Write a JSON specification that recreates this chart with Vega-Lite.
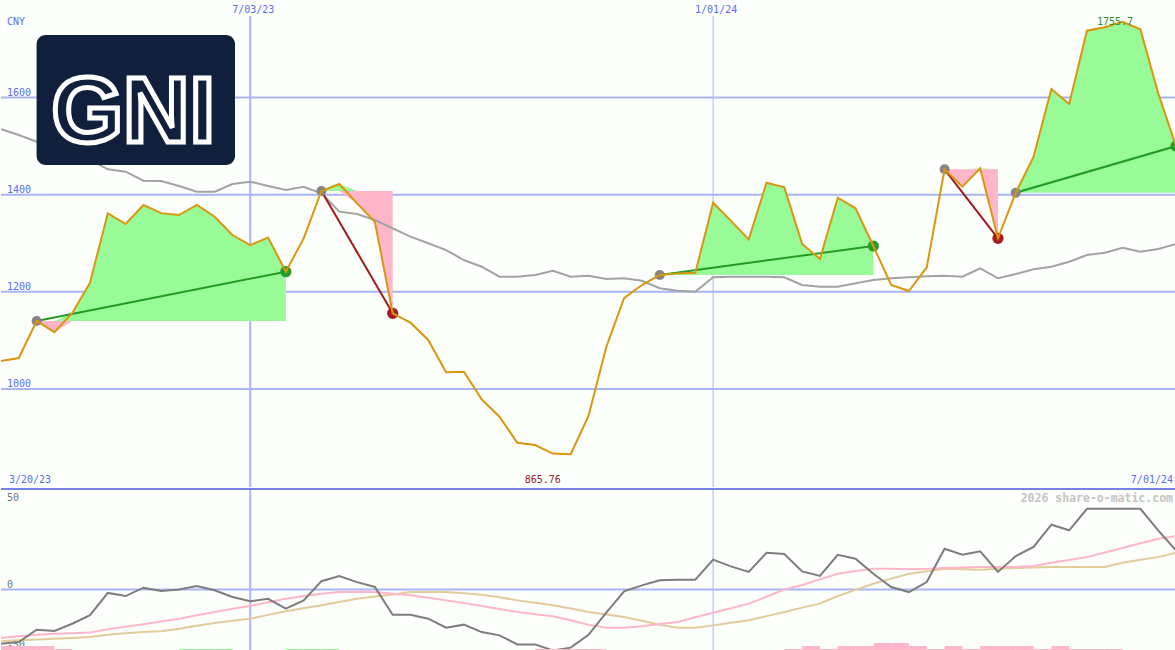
{
  "$schema": "https://vega.github.io/schema/vega-lite/v6.json",
  "background": "#fcfffc",
  "padding": 0,
  "spacing": 0,
  "config": {"view": {"stroke": null}, "concat": {"spacing": 0}},
  "datasets": {
    "price": [
      {"d":"2023-03-27","p":1057.6,"ma":1534.6},
      {"d":"2023-04-03","p":1063.8,"ma":1522.8},
      {"d":"2023-04-10","p":1140,"ma":1509,"t":"t1","base":1140},
      {"d":"2023-04-17","p":1117,"ma":1475,"t":"t1","base":1140},
      {"d":"2023-04-24","p":1156,"ma":1466.7,"t":"t1","base":1140},
      {"d":"2023-05-01","p":1218.8,"ma":1471.4,"t":"t1","base":1140},
      {"d":"2023-05-08","p":1361.7,"ma":1452.3,"t":"t1","base":1140},
      {"d":"2023-05-15","p":1339.6,"ma":1447.3,"t":"t1","base":1140},
      {"d":"2023-05-22","p":1378.8,"ma":1428.8,"t":"t1","base":1140},
      {"d":"2023-05-29","p":1362,"ma":1428.2,"t":"t1","base":1140},
      {"d":"2023-06-05","p":1358,"ma":1417.9,"t":"t1","base":1140},
      {"d":"2023-06-12","p":1378.8,"ma":1406.1,"t":"t1","base":1140},
      {"d":"2023-06-19","p":1354.7,"ma":1406.1,"t":"t1","base":1140},
      {"d":"2023-06-26","p":1317,"ma":1422,"t":"t1","base":1140},
      {"d":"2023-07-03","p":1296,"ma":1426.7,"t":"t1","base":1140},
      {"d":"2023-07-10","p":1312,"ma":1418,"t":"t1","base":1140},
      {"d":"2023-07-17","p":1241.5,"ma":1409.6,"t":"t1","base":1140},
      {"d":"2023-07-24","p":1310,"ma":1416.4},
      {"d":"2023-07-31","p":1407.6,"ma":1402.8,"t":"t2","base":1407.6},
      {"d":"2023-08-07","p":1422,"ma":1365,"t":"t2","base":1407.6},
      {"d":"2023-08-14","p":1382,"ma":1360.2,"t":"t2","base":1407.6},
      {"d":"2023-08-21","p":1344,"ma":1347.9,"t":"t2","base":1407.6},
      {"d":"2023-08-28","p":1155.8,"ma":1330.8,"t":"t2","base":1407.6},
      {"d":"2023-09-04","p":1136.5,"ma":1313.5},
      {"d":"2023-09-11","p":1100.9,"ma":1300},
      {"d":"2023-09-18","p":1034.3,"ma":1286},
      {"d":"2023-09-25","p":1035.6,"ma":1265.5},
      {"d":"2023-10-02","p":978.7,"ma":1251.7},
      {"d":"2023-10-09","p":943,"ma":1231.2},
      {"d":"2023-10-16","p":889.5,"ma":1231.2},
      {"d":"2023-10-23","p":884.7,"ma":1234.7},
      {"d":"2023-10-30","p":867,"ma":1243.5},
      {"d":"2023-11-06","p":865.76,"ma":1231.2},
      {"d":"2023-11-13","p":944.4,"ma":1233.2},
      {"d":"2023-11-20","p":1086.5,"ma":1226.4},
      {"d":"2023-11-27","p":1187,"ma":1227.9},
      {"d":"2023-12-04","p":1214,"ma":1222.9},
      {"d":"2023-12-11","p":1234.7,"ma":1207.3,"t":"t3","base":1234.7},
      {"d":"2023-12-18","p":1238,"ma":1202.3,"t":"t3","base":1234.7},
      {"d":"2023-12-25","p":1239.4,"ma":1200.3,"t":"t3","base":1234.7},
      {"d":"2024-01-01","p":1383.5,"ma":1229.9,"t":"t3","base":1234.7},
      {"d":"2024-01-08","p":1346,"ma":1231.2,"t":"t3","base":1234.7},
      {"d":"2024-01-15","p":1308,"ma":1231.2,"t":"t3","base":1234.7},
      {"d":"2024-01-22","p":1424.6,"ma":1231.2,"t":"t3","base":1234.7},
      {"d":"2024-01-29","p":1415,"ma":1229.9,"t":"t3","base":1234.7},
      {"d":"2024-02-05","p":1298.5,"ma":1214,"t":"t3","base":1234.7},
      {"d":"2024-02-12","p":1267.6,"ma":1210.6,"t":"t3","base":1234.7},
      {"d":"2024-02-19","p":1393.8,"ma":1210.6,"t":"t3","base":1234.7},
      {"d":"2024-02-26","p":1372,"ma":1217.6,"t":"t3","base":1234.7},
      {"d":"2024-03-04","p":1294.4,"ma":1224.4,"t":"t3","base":1234.7},
      {"d":"2024-03-11","p":1214,"ma":1227.9},
      {"d":"2024-03-18","p":1201.7,"ma":1229.9},
      {"d":"2024-03-25","p":1250.5,"ma":1232},
      {"d":"2024-04-01","p":1452.3,"ma":1233.2,"t":"t4","base":1452.3},
      {"d":"2024-04-08","p":1416.4,"ma":1231.2,"t":"t4","base":1452.3},
      {"d":"2024-04-15","p":1454.3,"ma":1248.4,"t":"t4","base":1452.3},
      {"d":"2024-04-22","p":1310.2,"ma":1227.9,"t":"t4","base":1452.3},
      {"d":"2024-04-29","p":1404,"ma":1236.7,"t":"t5","base":1404},
      {"d":"2024-05-06","p":1478.2,"ma":1246.4,"t":"t5","base":1404},
      {"d":"2024-05-13","p":1617.5,"ma":1251.7,"t":"t5","base":1404},
      {"d":"2024-05-20","p":1586.7,"ma":1262,"t":"t5","base":1404},
      {"d":"2024-05-27","p":1737.6,"ma":1275.8,"t":"t5","base":1404},
      {"d":"2024-06-03","p":1744.5,"ma":1280.6,"t":"t5","base":1404},
      {"d":"2024-06-10","p":1755.7,"ma":1290.9,"t":"t5","base":1404},
      {"d":"2024-06-17","p":1740.4,"ma":1282.6,"t":"t5","base":1404},
      {"d":"2024-06-24","p":1608.7,"ma":1288.2,"t":"t5","base":1404},
      {"d":"2024-07-01","p":1500,"ma":1298.5,"t":"t5","base":1404}
    ],
    "trades": [
      {"t":"t1","d":"2023-04-10","p":1140,"role":"entry","res":"win"},
      {"t":"t1","d":"2023-07-17","p":1241.5,"role":"exit","res":"win"},
      {"t":"t2","d":"2023-07-31","p":1407.6,"role":"entry","res":"loss"},
      {"t":"t2","d":"2023-08-28","p":1155.8,"role":"exit","res":"loss"},
      {"t":"t3","d":"2023-12-11","p":1234.7,"role":"entry","res":"win"},
      {"t":"t3","d":"2024-03-04","p":1294.4,"role":"exit","res":"win"},
      {"t":"t4","d":"2024-04-01","p":1452.3,"role":"entry","res":"loss"},
      {"t":"t4","d":"2024-04-22","p":1310.2,"role":"exit","res":"loss"},
      {"t":"t5","d":"2024-04-29","p":1404,"role":"entry","res":"win"},
      {"t":"t5","d":"2024-07-01","p":1500,"role":"exit","res":"win"}
    ],
    "grid": [{"v":1000},{"v":1200},{"v":1400},{"v":1600}],
    "osc": [
      {"d":"2023-03-27","o":-29.9,"pk":-26.8,"tn":-28.6},
      {"d":"2023-04-03","o":-29,"pk":-25.8,"tn":-28},
      {"d":"2023-04-10","o":-22.2,"pk":-25,"tn":-27.6},
      {"d":"2023-04-17","o":-22.9,"pk":-24.4,"tn":-27.2},
      {"d":"2023-04-24","o":-18.9,"pk":-24.1,"tn":-26.8},
      {"d":"2023-05-01","o":-14.2,"pk":-23.8,"tn":-26.2},
      {"d":"2023-05-08","o":-1.9,"pk":-22,"tn":-25},
      {"d":"2023-05-15","o":-3.6,"pk":-20.6,"tn":-24.2},
      {"d":"2023-05-22","o":1,"pk":-19.2,"tn":-23.5},
      {"d":"2023-05-29","o":-0.8,"pk":-17.6,"tn":-23.1},
      {"d":"2023-06-05","o":0,"pk":-16.1,"tn":-21.6},
      {"d":"2023-06-12","o":1.9,"pk":-14.2,"tn":-20},
      {"d":"2023-06-19","o":-0.4,"pk":-12.4,"tn":-18.5},
      {"d":"2023-06-26","o":-4.1,"pk":-10.6,"tn":-17.3},
      {"d":"2023-07-03","o":-6.5,"pk":-9.1,"tn":-16.1},
      {"d":"2023-07-10","o":-5.1,"pk":-7,"tn":-14},
      {"d":"2023-07-17","o":-10.6,"pk":-5.1,"tn":-12},
      {"d":"2023-07-24","o":-6,"pk":-3.6,"tn":-10.3},
      {"d":"2023-07-31","o":4.6,"pk":-2.3,"tn":-8.7},
      {"d":"2023-08-07","o":7.5,"pk":-1.4,"tn":-6.9},
      {"d":"2023-08-14","o":4.1,"pk":-1.4,"tn":-5.1},
      {"d":"2023-08-21","o":1.4,"pk":-1.4,"tn":-3.8},
      {"d":"2023-08-28","o":-13.9,"pk":-2.3,"tn":-2.7},
      {"d":"2023-09-04","o":-13.9,"pk":-3.2,"tn":-1.4},
      {"d":"2023-09-11","o":-16.1,"pk":-4.6,"tn":-1.4},
      {"d":"2023-09-18","o":-21.1,"pk":-6,"tn":-1.4},
      {"d":"2023-09-25","o":-19.4,"pk":-7.5,"tn":-2},
      {"d":"2023-10-02","o":-23.5,"pk":-9.1,"tn":-2.9},
      {"d":"2023-10-09","o":-25.3,"pk":-10.8,"tn":-4.3},
      {"d":"2023-10-16","o":-30.3,"pk":-12.4,"tn":-6},
      {"d":"2023-10-23","o":-30.3,"pk":-13.6,"tn":-7.3},
      {"d":"2023-10-30","o":-33.6,"pk":-14.8,"tn":-8.7},
      {"d":"2023-11-06","o":-32.1,"pk":-17,"tn":-10.5},
      {"d":"2023-11-13","o":-25,"pk":-19.4,"tn":-12.4},
      {"d":"2023-11-20","o":-12.8,"pk":-21.1,"tn":-13.8},
      {"d":"2023-11-27","o":-1,"pk":-21.1,"tn":-15.2},
      {"d":"2023-12-04","o":2.3,"pk":-20.3,"tn":-17.2},
      {"d":"2023-12-11","o":5.1,"pk":-19.1,"tn":-19.4},
      {"d":"2023-12-18","o":5.4,"pk":-17.9,"tn":-21.1},
      {"d":"2023-12-25","o":5.4,"pk":-15.3,"tn":-21.1},
      {"d":"2024-01-01","o":16.5,"pk":-12.8,"tn":-19.8},
      {"d":"2024-01-08","o":12.8,"pk":-10.3,"tn":-18.4},
      {"d":"2024-01-15","o":9.7,"pk":-7.8,"tn":-17},
      {"d":"2024-01-22","o":20.3,"pk":-4,"tn":-14.7},
      {"d":"2024-01-29","o":19.6,"pk":0.1,"tn":-12.4},
      {"d":"2024-02-05","o":10,"pk":2.5,"tn":-10},
      {"d":"2024-02-12","o":7.5,"pk":5.6,"tn":-7.8},
      {"d":"2024-02-19","o":19.2,"pk":8.7,"tn":-3.6},
      {"d":"2024-02-26","o":17,"pk":10.2,"tn":-0.2},
      {"d":"2024-03-04","o":8.7,"pk":11.5,"tn":3.2},
      {"d":"2024-03-11","o":1.4,"pk":11.5,"tn":6},
      {"d":"2024-03-18","o":-1.4,"pk":11.2,"tn":8.7},
      {"d":"2024-03-25","o":4.1,"pk":11.4,"tn":10.1},
      {"d":"2024-04-01","o":22.5,"pk":11.9,"tn":11.5},
      {"d":"2024-04-08","o":19.2,"pk":12.1,"tn":11.2},
      {"d":"2024-04-15","o":21.1,"pk":12.4,"tn":10.9},
      {"d":"2024-04-22","o":9.7,"pk":12.4,"tn":11.4},
      {"d":"2024-04-29","o":18.5,"pk":12.4,"tn":11.9},
      {"d":"2024-05-06","o":23.5,"pk":13,"tn":12.1},
      {"d":"2024-05-13","o":35.8,"pk":14.8,"tn":12.4},
      {"d":"2024-05-20","o":32.7,"pk":16.3,"tn":12.4},
      {"d":"2024-05-27","o":44.6,"pk":17.9,"tn":12.4},
      {"d":"2024-06-03","o":44.6,"pk":20.4,"tn":12.4},
      {"d":"2024-06-10","o":44.6,"pk":22.9,"tn":14.8},
      {"d":"2024-06-17","o":44.6,"pk":25.5,"tn":16.4},
      {"d":"2024-06-24","o":32.7,"pk":28,"tn":17.9},
      {"d":"2024-07-01","o":21.6,"pk":29.5,"tn":20.3}
    ],
    "bars": [
      {"d":"2023-03-27","d2":"2023-04-03","lvl":2,"dir":"neg"},
      {"d":"2023-04-03","d2":"2023-04-10","lvl":2,"dir":"neg"},
      {"d":"2023-04-10","d2":"2023-04-17","lvl":2,"dir":"neg"},
      {"d":"2023-04-17","d2":"2023-04-24","lvl":1,"dir":"neg"},
      {"d":"2023-06-05","d2":"2023-06-12","lvl":1,"dir":"pos"},
      {"d":"2023-06-12","d2":"2023-06-19","lvl":1,"dir":"pos"},
      {"d":"2023-06-19","d2":"2023-06-26","lvl":1,"dir":"pos"},
      {"d":"2023-07-17","d2":"2023-07-24","lvl":1,"dir":"pos"},
      {"d":"2023-07-24","d2":"2023-07-31","lvl":1,"dir":"pos"},
      {"d":"2023-07-31","d2":"2023-08-07","lvl":1,"dir":"pos"},
      {"d":"2023-10-23","d2":"2023-10-30","lvl":1,"dir":"neg"},
      {"d":"2023-10-30","d2":"2023-11-06","lvl":1,"dir":"neg"},
      {"d":"2023-11-06","d2":"2023-11-13","lvl":1,"dir":"neg"},
      {"d":"2023-11-13","d2":"2023-11-20","lvl":1,"dir":"neg"},
      {"d":"2024-01-29","d2":"2024-02-05","lvl":1,"dir":"neg"},
      {"d":"2024-02-05","d2":"2024-02-12","lvl":2,"dir":"neg"},
      {"d":"2024-02-12","d2":"2024-02-19","lvl":1,"dir":"neg"},
      {"d":"2024-02-19","d2":"2024-02-26","lvl":2,"dir":"neg"},
      {"d":"2024-02-26","d2":"2024-03-04","lvl":2,"dir":"neg"},
      {"d":"2024-03-04","d2":"2024-03-11","lvl":3,"dir":"neg"},
      {"d":"2024-03-11","d2":"2024-03-18","lvl":3,"dir":"neg"},
      {"d":"2024-03-18","d2":"2024-03-25","lvl":2,"dir":"neg"},
      {"d":"2024-03-25","d2":"2024-04-01","lvl":1,"dir":"neg"},
      {"d":"2024-04-01","d2":"2024-04-08","lvl":2,"dir":"neg"},
      {"d":"2024-04-08","d2":"2024-04-15","lvl":1,"dir":"neg"},
      {"d":"2024-04-15","d2":"2024-04-22","lvl":2,"dir":"neg"},
      {"d":"2024-04-22","d2":"2024-04-29","lvl":2,"dir":"neg"},
      {"d":"2024-04-29","d2":"2024-05-06","lvl":2,"dir":"neg"},
      {"d":"2024-05-06","d2":"2024-05-13","lvl":1,"dir":"neg"},
      {"d":"2024-05-13","d2":"2024-05-20","lvl":2,"dir":"neg"},
      {"d":"2024-05-20","d2":"2024-05-27","lvl":1,"dir":"neg"},
      {"d":"2024-05-27","d2":"2024-06-03","lvl":1,"dir":"neg"},
      {"d":"2024-06-03","d2":"2024-06-10","lvl":1,"dir":"neg"}
    ]
  },
  "vconcat": [
    {
      "width": 1175,
      "height": 487,
      "layer": [
        {
          "data": {"name": "grid"},
          "mark": {"type": "rule", "color": "#a9b5f5", "strokeWidth": 2},
          "encoding": {"y": {"field": "v", "type": "quantitative", "scale": {"domain": [798.3, 1800.7], "zero": false, "nice": false}, "axis": null}}
        },
        {
          "data": {"values": [{}]},
          "mark": {"type": "rule", "color": "#a9b5f5", "strokeWidth": 2},
          "encoding": {
            "x": {"datum": {"year": 2023, "month": 7, "date": 3, "utc": true}, "type": "temporal", "scale": {"domain": [{"year": 2023, "month": 3, "date": 27, "utc": true}, {"year": 2024, "month": 7, "date": 1, "utc": true}]}, "axis": null},
            "y": {"datum": 798.3, "type": "quantitative", "scale": {"domain": [798.3, 1800.7], "zero": false, "nice": false}, "axis": null},
            "y2": {"datum": 1767.8}
          }
        },
        {
          "data": {"values": [{}]},
          "mark": {"type": "rule", "color": "#a9b5f5", "strokeWidth": 1},
          "encoding": {
            "x": {"datum": {"year": 2024, "month": 1, "date": 1, "utc": true}, "type": "temporal", "scale": {"domain": [{"year": 2023, "month": 3, "date": 27, "utc": true}, {"year": 2024, "month": 7, "date": 1, "utc": true}]}, "axis": null},
            "y": {"datum": 798.3, "type": "quantitative", "scale": {"domain": [798.3, 1800.7], "zero": false, "nice": false}, "axis": null},
            "y2": {"datum": 1767.8}
          }
        },
        {
          "data": {"name": "price"},
          "transform": [{"filter": "isValid(datum.base)"}, {"calculate": "max(datum.p, datum.base)", "as": "hi"}],
          "mark": {"type": "area", "color": "#98fb98", "opacity": 1, "clip": true},
          "encoding": {
            "x": {"field": "d", "type": "temporal", "scale": {"domain": [{"year": 2023, "month": 3, "date": 27, "utc": true}, {"year": 2024, "month": 7, "date": 1, "utc": true}]}, "axis": null},
            "y": {"field": "hi", "type": "quantitative", "scale": {"domain": [798.3, 1800.7], "zero": false, "nice": false}, "axis": null},
            "y2": {"field": "base"},
            "detail": {"field": "t"}
          }
        },
        {
          "data": {"name": "price"},
          "transform": [{"filter": "isValid(datum.base)"}, {"calculate": "min(datum.p, datum.base)", "as": "lo"}],
          "mark": {"type": "area", "color": "#ffb6c9", "opacity": 1, "clip": true},
          "encoding": {
            "x": {"field": "d", "type": "temporal", "scale": {"domain": [{"year": 2023, "month": 3, "date": 27, "utc": true}, {"year": 2024, "month": 7, "date": 1, "utc": true}]}, "axis": null},
            "y": {"field": "lo", "type": "quantitative", "scale": {"domain": [798.3, 1800.7], "zero": false, "nice": false}, "axis": null},
            "y2": {"field": "base"},
            "detail": {"field": "t"}
          }
        },
        {
          "data": {"name": "price"},
          "mark": {"type": "line", "color": "#a3a3a3", "strokeWidth": 2, "clip": true},
          "encoding": {
            "x": {"field": "d", "type": "temporal", "scale": {"domain": [{"year": 2023, "month": 3, "date": 27, "utc": true}, {"year": 2024, "month": 7, "date": 1, "utc": true}]}, "axis": null},
            "y": {"field": "ma", "type": "quantitative", "scale": {"domain": [798.3, 1800.7], "zero": false, "nice": false}, "axis": null}
          }
        },
        {
          "data": {"name": "trades"},
          "transform": [{"filter": "datum.res == 'win'"}],
          "mark": {"type": "line", "color": "#239b23", "strokeWidth": 2, "clip": true},
          "encoding": {
            "x": {"field": "d", "type": "temporal", "scale": {"domain": [{"year": 2023, "month": 3, "date": 27, "utc": true}, {"year": 2024, "month": 7, "date": 1, "utc": true}]}, "axis": null},
            "y": {"field": "p", "type": "quantitative", "scale": {"domain": [798.3, 1800.7], "zero": false, "nice": false}, "axis": null},
            "detail": {"field": "t"}
          }
        },
        {
          "data": {"name": "trades"},
          "transform": [{"filter": "datum.res == 'loss'"}],
          "mark": {"type": "line", "color": "#a01a1a", "strokeWidth": 2, "clip": true},
          "encoding": {
            "x": {"field": "d", "type": "temporal", "scale": {"domain": [{"year": 2023, "month": 3, "date": 27, "utc": true}, {"year": 2024, "month": 7, "date": 1, "utc": true}]}, "axis": null},
            "y": {"field": "p", "type": "quantitative", "scale": {"domain": [798.3, 1800.7], "zero": false, "nice": false}, "axis": null},
            "detail": {"field": "t"}
          }
        },
        {
          "data": {"name": "trades"},
          "transform": [{"filter": "datum.role == 'entry'"}],
          "mark": {"type": "circle", "color": "#858585", "size": 100, "opacity": 1, "clip": true},
          "encoding": {
            "x": {"field": "d", "type": "temporal", "scale": {"domain": [{"year": 2023, "month": 3, "date": 27, "utc": true}, {"year": 2024, "month": 7, "date": 1, "utc": true}]}, "axis": null},
            "y": {"field": "p", "type": "quantitative", "scale": {"domain": [798.3, 1800.7], "zero": false, "nice": false}, "axis": null}
          }
        },
        {
          "data": {"name": "trades"},
          "transform": [{"filter": "datum.role == 'exit' && datum.res == 'win'"}],
          "mark": {"type": "circle", "color": "#2a9a2a", "size": 125, "opacity": 1, "clip": true},
          "encoding": {
            "x": {"field": "d", "type": "temporal", "scale": {"domain": [{"year": 2023, "month": 3, "date": 27, "utc": true}, {"year": 2024, "month": 7, "date": 1, "utc": true}]}, "axis": null},
            "y": {"field": "p", "type": "quantitative", "scale": {"domain": [798.3, 1800.7], "zero": false, "nice": false}, "axis": null}
          }
        },
        {
          "data": {"name": "trades"},
          "transform": [{"filter": "datum.role == 'exit' && datum.res == 'loss'"}],
          "mark": {"type": "circle", "color": "#a81c1c", "size": 125, "opacity": 1, "clip": true},
          "encoding": {
            "x": {"field": "d", "type": "temporal", "scale": {"domain": [{"year": 2023, "month": 3, "date": 27, "utc": true}, {"year": 2024, "month": 7, "date": 1, "utc": true}]}, "axis": null},
            "y": {"field": "p", "type": "quantitative", "scale": {"domain": [798.3, 1800.7], "zero": false, "nice": false}, "axis": null}
          }
        },
        {
          "data": {"name": "price"},
          "mark": {"type": "line", "color": "#da960e", "strokeWidth": 2, "clip": true},
          "encoding": {
            "x": {"field": "d", "type": "temporal", "scale": {"domain": [{"year": 2023, "month": 3, "date": 27, "utc": true}, {"year": 2024, "month": 7, "date": 1, "utc": true}]}, "axis": null},
            "y": {"field": "p", "type": "quantitative", "scale": {"domain": [798.3, 1800.7], "zero": false, "nice": false}, "axis": null}
          }
        },
        {
          "data": {"values": [{}]},
          "mark": {"type": "rect", "color": "#0f1f3c", "cornerRadius": 9},
          "encoding": {
            "x": {"datum": {"year": 2023, "month": 4, "date": 10, "utc": true}, "type": "temporal", "scale": {"domain": [{"year": 2023, "month": 3, "date": 27, "utc": true}, {"year": 2024, "month": 7, "date": 1, "utc": true}]}, "axis": null},
            "x2": {"datum": {"year": 2023, "month": 6, "date": 27, "utc": true}},
            "y": {"datum": 1461.1, "type": "quantitative", "scale": {"domain": [798.3, 1800.7], "zero": false, "nice": false}, "axis": null},
            "y2": {"datum": 1728.7}
          }
        },
        {
          "data": {"values": [{"txt": "GNI"}]},
          "mark": {"type": "text", "font": "Liberation Sans", "fontWeight": "bold", "fontSize": 92, "fill": "#0f1f3c", "stroke": "#ffffff", "strokeWidth": 5, "align": "center", "baseline": "alphabetic"},
          "encoding": {
            "x": {"datum": {"year": 2023, "month": 5, "date": 18, "utc": true}, "type": "temporal", "scale": {"domain": [{"year": 2023, "month": 3, "date": 27, "utc": true}, {"year": 2024, "month": 7, "date": 1, "utc": true}]}, "axis": null},
            "y": {"datum": 1508, "type": "quantitative", "scale": {"domain": [798.3, 1800.7], "zero": false, "nice": false}, "axis": null},
            "text": {"field": "txt"}
          }
        },
        {
          "data": {"name": "grid"},
          "mark": {"type": "text", "font": "DejaVu Sans Mono", "fontSize": 10, "color": "#5c6cf2", "align": "left", "baseline": "alphabetic", "dx": 6, "dy": -2},
          "encoding": {
            "x": {"datum": {"year": 2023, "month": 3, "date": 27, "utc": true}, "type": "temporal", "scale": {"domain": [{"year": 2023, "month": 3, "date": 27, "utc": true}, {"year": 2024, "month": 7, "date": 1, "utc": true}]}, "axis": null},
            "y": {"field": "v", "type": "quantitative", "scale": {"domain": [798.3, 1800.7], "zero": false, "nice": false}, "axis": null},
            "text": {"field": "v", "format": "d"}
          }
        },
        {
          "data": {"values": [{"txt": "CNY"}]},
          "mark": {"type": "text", "font": "DejaVu Sans Mono", "fontSize": 10, "color": "#5c6cf2", "align": "left", "baseline": "alphabetic", "dx": 6},
          "encoding": {
            "x": {"datum": {"year": 2023, "month": 3, "date": 27, "utc": true}, "type": "temporal", "scale": {"domain": [{"year": 2023, "month": 3, "date": 27, "utc": true}, {"year": 2024, "month": 7, "date": 1, "utc": true}]}, "axis": null},
            "y": {"datum": 1749.3, "type": "quantitative", "scale": {"domain": [798.3, 1800.7], "zero": false, "nice": false}, "axis": null},
            "text": {"field": "txt"}
          }
        },
        {
          "data": {"values": [{"txt": "7/03/23"}]},
          "mark": {"type": "text", "font": "DejaVu Sans Mono", "fontSize": 10, "color": "#5c6cf2", "align": "center", "baseline": "alphabetic", "dx": 3},
          "encoding": {
            "x": {"datum": {"year": 2023, "month": 7, "date": 3, "utc": true}, "type": "temporal", "scale": {"domain": [{"year": 2023, "month": 3, "date": 27, "utc": true}, {"year": 2024, "month": 7, "date": 1, "utc": true}]}, "axis": null},
            "y": {"datum": 1773.4, "type": "quantitative", "scale": {"domain": [798.3, 1800.7], "zero": false, "nice": false}, "axis": null},
            "text": {"field": "txt"}
          }
        },
        {
          "data": {"values": [{"txt": "1/01/24"}]},
          "mark": {"type": "text", "font": "DejaVu Sans Mono", "fontSize": 10, "color": "#5c6cf2", "align": "center", "baseline": "alphabetic", "dx": 3},
          "encoding": {
            "x": {"datum": {"year": 2024, "month": 1, "date": 1, "utc": true}, "type": "temporal", "scale": {"domain": [{"year": 2023, "month": 3, "date": 27, "utc": true}, {"year": 2024, "month": 7, "date": 1, "utc": true}]}, "axis": null},
            "y": {"datum": 1773.4, "type": "quantitative", "scale": {"domain": [798.3, 1800.7], "zero": false, "nice": false}, "axis": null},
            "text": {"field": "txt"}
          }
        },
        {
          "data": {"values": [{"txt": "3/20/23"}]},
          "mark": {"type": "text", "font": "DejaVu Sans Mono", "fontSize": 10, "color": "#5c6cf2", "align": "left", "baseline": "alphabetic", "dx": 8},
          "encoding": {
            "x": {"datum": {"year": 2023, "month": 3, "date": 27, "utc": true}, "type": "temporal", "scale": {"domain": [{"year": 2023, "month": 3, "date": 27, "utc": true}, {"year": 2024, "month": 7, "date": 1, "utc": true}]}, "axis": null},
            "y": {"datum": 806.5, "type": "quantitative", "scale": {"domain": [798.3, 1800.7], "zero": false, "nice": false}, "axis": null},
            "text": {"field": "txt"}
          }
        },
        {
          "data": {"values": [{"txt": "7/01/24"}]},
          "mark": {"type": "text", "font": "DejaVu Sans Mono", "fontSize": 10, "color": "#5c6cf2", "align": "right", "baseline": "alphabetic", "dx": -3},
          "encoding": {
            "x": {"datum": {"year": 2024, "month": 7, "date": 1, "utc": true}, "type": "temporal", "scale": {"domain": [{"year": 2023, "month": 3, "date": 27, "utc": true}, {"year": 2024, "month": 7, "date": 1, "utc": true}]}, "axis": null},
            "y": {"datum": 806.5, "type": "quantitative", "scale": {"domain": [798.3, 1800.7], "zero": false, "nice": false}, "axis": null},
            "text": {"field": "txt"}
          }
        },
        {
          "data": {"values": [{"txt": "865.76"}]},
          "mark": {"type": "text", "font": "DejaVu Sans Mono", "fontSize": 10, "color": "#a01a1a", "align": "center", "baseline": "alphabetic"},
          "encoding": {
            "x": {"datum": {"year": 2023, "month": 10, "date": 26, "utc": true}, "type": "temporal", "scale": {"domain": [{"year": 2023, "month": 3, "date": 27, "utc": true}, {"year": 2024, "month": 7, "date": 1, "utc": true}]}, "axis": null},
            "y": {"datum": 806.5, "type": "quantitative", "scale": {"domain": [798.3, 1800.7], "zero": false, "nice": false}, "axis": null},
            "text": {"field": "txt"}
          }
        },
        {
          "data": {"values": [{"txt": "1755.7"}]},
          "mark": {"type": "text", "font": "DejaVu Sans Mono", "fontSize": 10, "color": "#2f8f2f", "align": "center", "baseline": "alphabetic"},
          "encoding": {
            "x": {"datum": {"year": 2024, "month": 6, "date": 7, "utc": true}, "type": "temporal", "scale": {"domain": [{"year": 2023, "month": 3, "date": 27, "utc": true}, {"year": 2024, "month": 7, "date": 1, "utc": true}]}, "axis": null},
            "y": {"datum": 1749.3, "type": "quantitative", "scale": {"domain": [798.3, 1800.7], "zero": false, "nice": false}, "axis": null},
            "text": {"field": "txt"}
          }
        }
      ]
    },
    {
      "width": 1175,
      "height": 163,
      "resolve": {"scale": {"y": "independent"}},
      "layer": [
        {
          "layer": [
            {
              "data": {"values": [{}]},
              "mark": {"type": "rule", "color": "#a9b5f5", "strokeWidth": 2},
              "encoding": {"y": {"datum": 0, "type": "quantitative", "scale": {"domain": [-34.5, 55.5], "zero": false, "nice": false}, "axis": null}}
            },
            {
              "data": {"values": [{}]},
              "mark": {"type": "rule", "color": "#a9b5f5", "strokeWidth": 2},
              "encoding": {"x": {"datum": {"year": 2023, "month": 7, "date": 3, "utc": true}, "type": "temporal", "scale": {"domain": [{"year": 2023, "month": 3, "date": 27, "utc": true}, {"year": 2024, "month": 7, "date": 1, "utc": true}]}, "axis": null}}
            },
            {
              "data": {"values": [{}]},
              "mark": {"type": "rule", "color": "#a9b5f5", "strokeWidth": 1},
              "encoding": {"x": {"datum": {"year": 2024, "month": 1, "date": 1, "utc": true}, "type": "temporal", "scale": {"domain": [{"year": 2023, "month": 3, "date": 27, "utc": true}, {"year": 2024, "month": 7, "date": 1, "utc": true}]}, "axis": null}}
            },
            {
              "data": {"values": [{}]},
              "mark": {"type": "rule", "color": "#7282ea", "strokeWidth": 2},
              "encoding": {"y": {"datum": 55.5, "type": "quantitative", "scale": {"domain": [-34.5, 55.5], "zero": false, "nice": false}, "axis": null}}
            },
            {
              "data": {"values": [{"txt": "50", "v": 48.7}, {"txt": "0", "v": 1.0}, {"txt": "-50", "v": -32.3}]},
              "mark": {"type": "text", "font": "DejaVu Sans Mono", "fontSize": 10, "color": "#777777", "align": "left", "baseline": "alphabetic", "dx": 6},
              "encoding": {
                "x": {"datum": {"year": 2023, "month": 3, "date": 27, "utc": true}, "type": "temporal", "scale": {"domain": [{"year": 2023, "month": 3, "date": 27, "utc": true}, {"year": 2024, "month": 7, "date": 1, "utc": true}]}, "axis": null},
                "y": {"field": "v", "type": "quantitative", "scale": {"domain": [-34.5, 55.5], "zero": false, "nice": false}, "axis": null},
                "text": {"field": "txt"}
              }
            },
            {
              "data": {"values": [{"txt": "2026 share-o-matic.com"}]},
              "mark": {"type": "text", "font": "DejaVu Sans Mono", "fontSize": 11.5, "fontWeight": "bold", "color": "#c4c4c4", "align": "right", "baseline": "alphabetic", "dx": -3},
              "encoding": {
                "x": {"datum": {"year": 2024, "month": 7, "date": 1, "utc": true}, "type": "temporal", "scale": {"domain": [{"year": 2023, "month": 3, "date": 27, "utc": true}, {"year": 2024, "month": 7, "date": 1, "utc": true}]}, "axis": null},
                "y": {"datum": 48.3, "type": "quantitative", "scale": {"domain": [-34.5, 55.5], "zero": false, "nice": false}, "axis": null},
                "text": {"field": "txt"}
              }
            },
            {
              "data": {"name": "osc"},
              "mark": {"type": "line", "color": "#e3cb9b", "strokeWidth": 2, "clip": true},
              "encoding": {
                "x": {"field": "d", "type": "temporal", "scale": {"domain": [{"year": 2023, "month": 3, "date": 27, "utc": true}, {"year": 2024, "month": 7, "date": 1, "utc": true}]}, "axis": null},
                "y": {"field": "tn", "type": "quantitative", "scale": {"domain": [-34.5, 55.5], "zero": false, "nice": false}, "axis": null}
              }
            },
            {
              "data": {"name": "osc"},
              "mark": {"type": "line", "color": "#ffb6c9", "strokeWidth": 2, "clip": true},
              "encoding": {
                "x": {"field": "d", "type": "temporal", "scale": {"domain": [{"year": 2023, "month": 3, "date": 27, "utc": true}, {"year": 2024, "month": 7, "date": 1, "utc": true}]}, "axis": null},
                "y": {"field": "pk", "type": "quantitative", "scale": {"domain": [-34.5, 55.5], "zero": false, "nice": false}, "axis": null}
              }
            },
            {
              "data": {"name": "osc"},
              "mark": {"type": "line", "color": "#7d7d7d", "strokeWidth": 2, "clip": true},
              "encoding": {
                "x": {"field": "d", "type": "temporal", "scale": {"domain": [{"year": 2023, "month": 3, "date": 27, "utc": true}, {"year": 2024, "month": 7, "date": 1, "utc": true}]}, "axis": null},
                "y": {"field": "o", "type": "quantitative", "scale": {"domain": [-34.5, 55.5], "zero": false, "nice": false}, "axis": null}
              }
            }
          ]
        },
        {
          "data": {"name": "bars"},
          "mark": {"type": "rect", "clip": true},
          "encoding": {
            "x": {"field": "d", "type": "temporal", "scale": {"domain": [{"year": 2023, "month": 3, "date": 27, "utc": true}, {"year": 2024, "month": 7, "date": 1, "utc": true}]}, "axis": null},
            "x2": {"field": "d2"},
            "y": {"field": "lvl", "type": "quantitative", "scale": {"domain": [0, 54.33], "zero": false, "nice": false}, "axis": null},
            "y2": {"datum": 0},
            "color": {"field": "dir", "type": "nominal", "scale": {"domain": ["neg", "pos"], "range": ["#ffb6c9", "#98fb98"]}, "legend": null}
          }
        }
      ]
    }
  ]
}
